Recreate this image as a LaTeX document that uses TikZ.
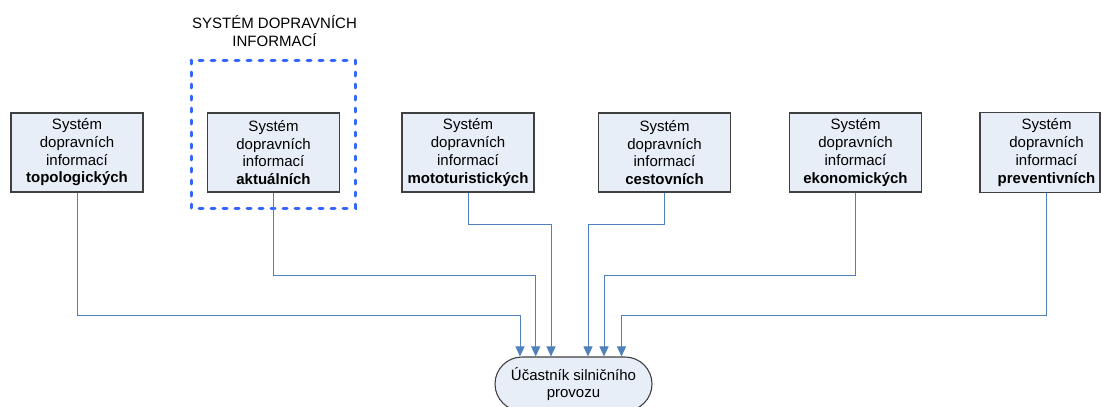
\documentclass[tikz,border=0pt]{standalone}
\usepackage{fontspec}
\setmainfont{Liberation Sans}
\usetikzlibrary{arrows.meta,shapes.misc,backgrounds}
\definecolor{boxfill}{RGB}{232,238,248}
\definecolor{boxline}{RGB}{64,64,64}
\definecolor{wire}{RGB}{79,129,189}
\definecolor{groupblue}{RGB}{51,102,255}
\begin{document}
\begin{tikzpicture}[x=1pt,y=-1pt,
  every node/.style={font=\fontsize{15}{17.7}\selectfont, align=center, inner sep=0pt},
  sysbox/.style={draw=boxline, fill=boxfill, line width=1.1pt,
                 minimum height=79pt, minimum width=132pt},
  frameonly/.style={draw=boxline, fill=boxfill, line width=1.1pt},
  conn/.style={draw=wire, line width=1pt, -{Triangle[length=10pt,width=9pt,fill=wire]}},
  groupframe/.style={draw=groupblue, line width=3pt, line cap=round,
                     dash pattern=on 4pt off 8pt},
  goal/.style={rounded rectangle, draw=boxline, fill=boxfill, line width=1.1pt,
               minimum width=157pt, minimum height=54pt}
]
\useasboundingbox (0,0) rectangle (1101,407);

% information systems
\node[sysbox] (b1) at (77,152.5)   {Systém\\dopravních\\informací\\\textbf{topologických}};
\node[sysbox] (b2) at (273.5,152.5) {Systém\\dopravních\\informací\\\textbf{aktuálních}};
\node[sysbox] (b3) at (468,152.5)  {Systém\\dopravních\\informací\\\textbf{mototuristických}};
\node[sysbox] (b4) at (664.5,152.5) {Systém\\dopravních\\informací\\\textbf{cestovních}};
\node[sysbox] (b5) at (855.5,152.5) {Systém\\dopravních\\informací\\\textbf{ekonomických}};
\node[sysbox, draw=none, fill=none] (b6) at (1046.5,152.5) {Systém\\dopravních\\informací\\\textbf{preventivních}};
\coordinate (rim) at (1100,0);
\begin{pgfonlayer}{background}
  \draw[frameonly] (b6.south west) rectangle (b6.north -| rim);
\end{pgfonlayer}

% group of current-information systems
\draw[groupframe] (191,60) rectangle (355,208);
\node (title) at (274.5,31) {SYSTÉM DOPRAVNÍCH\\INFORMACÍ};

% road user
\node[goal] (user) at (573.5,384) {Účastník silničního\\provozu};

% routing bends
\coordinate (k1) at (520,315);
\coordinate (k2) at (535.7,275);
\coordinate (k3) at (551,224.5);
\coordinate (k4) at (588,224.5);
\coordinate (k5) at (604,275);
\coordinate (k6) at (621.5,315);

\draw[conn] (b1.south) |- (k1) -- (k1 |- user.north);
\draw[conn] (b2.south) |- (k2) -- (k2 |- user.north);
\draw[conn] (b3.south) |- (k3) -- (k3 |- user.north);
\draw[conn] (b4.south) |- (k4) -- (k4 |- user.north);
\draw[conn] (b5.south) |- (k5) -- (k5 |- user.north);
\draw[conn] (b6.south) |- (k6) -- (k6 |- user.north);
\end{tikzpicture}
\end{document}
